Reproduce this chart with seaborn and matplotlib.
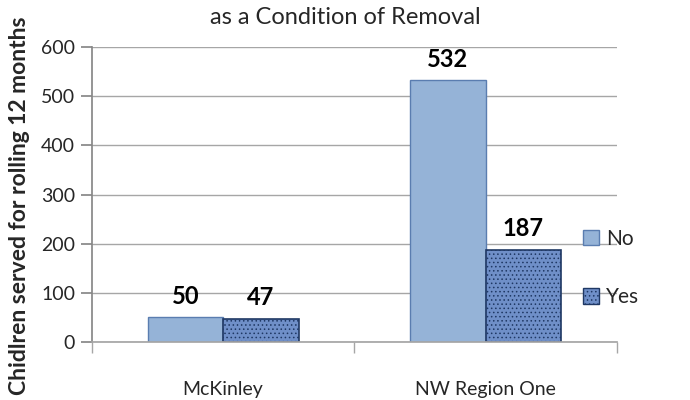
import matplotlib
matplotlib.use("Agg")
import matplotlib.pyplot as plt
import seaborn as sns
import pandas as pd
from matplotlib.patches import Patch

categories = ["McKinley", "NW Region One"]
no_values = [50, 532]
yes_values = [47, 187]
series = ["No", "Yes"]

df = pd.DataFrame({
    "Region": categories * 2,
    "Series": ["No"] * 2 + ["Yes"] * 2,
    "Value": no_values + yes_values,
})

sns.set_theme(style="white")
plt.rcParams['font.family'] = ['Lato', 'DejaVu Sans']
plt.rcParams['hatch.linewidth'] = 0.6

fig = plt.figure(figsize=(6.9, 4), dpi=100)
ax = fig.add_axes([0.133, 0.145, 0.761, 0.7375])

no_color = "#95B3D7"
yes_color = "#6F8FC8"
sns.barplot(data=df, x="Region", y="Value", hue="Series", order=categories,
            hue_order=series, palette=[no_color, yes_color], width=0.575,
            ax=ax, legend=False, saturation=1)

for i, bar in enumerate(ax.patches):
    if i < 2:
        bar.set_edgecolor("#5A7DB0")
        bar.set_linewidth(1.0)
    else:
        bar.set_edgecolor("#1F3864")
        bar.set_hatch("....")
        bar.set_linewidth(1.2)

for cont in ax.containers:
    ax.bar_label(cont, padding=7, fontsize=17, fontweight="bold", color="black")

ax.set_ylim(0, 600)
ax.set_yticks(range(0, 601, 100))
ax.set_xlim(-0.5, 1.5)
ax.yaxis.grid(True, color="#A6A6A6", linewidth=1)
ax.set_axisbelow(True)
for s in ["top", "right"]:
    ax.spines[s].set_visible(False)
ax.spines["left"].set_color("#888888")
ax.spines["bottom"].set_color("#A6A6A6")
ax.tick_params(axis="y", which="both", left=True, length=8, color="#888888",
               labelsize=14, pad=4)
ax.tick_params(axis="x", bottom=False, labelsize=14, pad=22)
ax.set_xticks([-0.5, 0.5, 1.5], minor=True)
ax.tick_params(axis="x", which="minor", bottom=True, length=8, color="#A6A6A6")
ax.set_xlabel("")
ax.set_ylabel("")
fig.text(0.028, 0.012, "Chidlren served for rolling 12 months", rotation=90,
         ha="center", va="bottom", fontsize=16.5, fontweight="bold")

fig.text(0.5, 0.955, "as a Condition of Removal", ha="center", va="center",
         fontsize=17)

handles = [Patch(facecolor=no_color, edgecolor="#5A7DB0"),
           Patch(facecolor=yes_color, edgecolor="#1F3864", hatch="....")]
fig.legend(handles, series, loc="center left", bbox_to_anchor=(0.818, 0.33),
           frameon=False, fontsize=15, handlelength=0.75, handleheight=0.75,
           labelspacing=1.85, handletextpad=0.35)

fig.savefig("out.png", dpi=100)
